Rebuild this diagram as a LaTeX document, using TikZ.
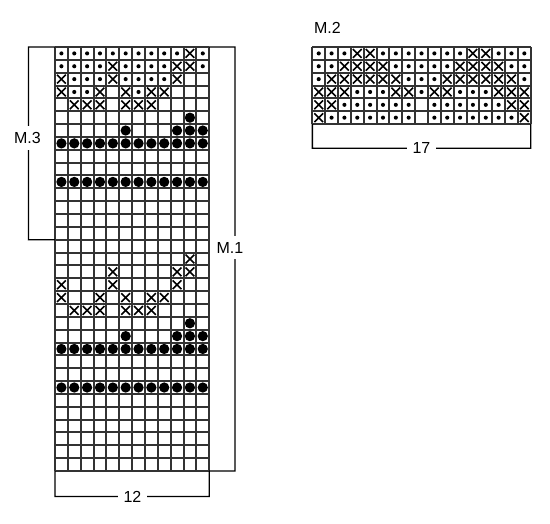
\documentclass[tikz,border=0pt]{standalone}
\usepackage{fontspec}
\setmainfont{Liberation Sans}
\begin{document}
\begin{tikzpicture}[x=1pt,y=-1pt,
  gridline/.style={line width=2pt,black!80},
  xline/.style={line width=1.6pt,black},
  bracket/.style={line width=1.4pt,black},
  lbl/.style={font=\fontsize{16}{19}\selectfont,fill=white,inner xsep=2pt,inner ysep=6pt}]
\useasboundingbox (0,0) rectangle (550,524);
\newcommand\sdot[2]{\fill (#1-0.5,#2-0.5) circle[radius=0.16];}
\newcommand\bdot[2]{\fill (#1-0.5,#2-0.5) circle[radius=0.4];}
\newcommand\xmk[2]{\draw[xline] (#1-0.84,#2-0.84) -- (#1-0.16,#2-0.16) (#1-0.84,#2-0.16) -- (#1-0.16,#2-0.84);}
% ---------- M.1 / M.3 chart ----------
\begin{scope}[shift={(55,47)},x=12.85pt,y=-12.85pt]
  \foreach \r/\cols in {1/{1,2,3,4,5,6,7,8,9,10,12},2/{1,2,3,4,6,7,8,9,12},3/{2,3,4,6,7,8,9},4/{2,3,7}}
    {\foreach \c in \cols {\sdot{\c}{\r}}}
  \foreach \r/\cols in {1/{11},2/{5,10,11},3/{1,5,10},4/{1,4,6,8,9},5/{2,3,4,6,7,8}}
    {\foreach \c in \cols {\xmk{\c}{\r}\xmk{\c}{\r+16}}}
  \foreach \r/\cols in {6/{11},7/{6,10,11,12},8/{1,2,3,4,5,6,7,8,9,10,11,12},11/{1,2,3,4,5,6,7,8,9,10,11,12},22/{11},23/{6,10,11,12},24/{1,2,3,4,5,6,7,8,9,10,11,12},27/{1,2,3,4,5,6,7,8,9,10,11,12}}
    {\foreach \c in \cols {\bdot{\c}{\r}}}
  \foreach \i in {0,...,12} \draw[gridline] (\i,0) -- (\i,33);
  \foreach \j in {0,...,33} \draw[gridline] (0,\j) -- (12,\j);
  \coordinate (LTL) at (0,0);
  \coordinate (LTR) at (12,0);
  \coordinate (LBL) at (0,33);
  \coordinate (LBR) at (12,33);
  \coordinate (L15) at (0,15);
\end{scope}
% ---------- M.2 chart ----------
\begin{scope}[shift={(312.3,47)},x=12.85pt,y=-12.85pt]
  \foreach \r/\cols in {1/{1,2,3,6,7,8,9,10,11,12,15,16,17},2/{1,2,7,8,9,10,11,16,17},3/{1,8,9,10,17},4/{4,5,6,9,12,13,14},5/{3,4,5,6,7,8,10,11,12,13,14,15},6/{2,3,4,5,6,7,8,10,11,12,13,14,15,16}}
    {\foreach \c in \cols {\sdot{\c}{\r}}}
  \foreach \r/\cols in {1/{4,5,13,14},2/{3,4,5,6,12,13,14,15},3/{2,3,4,5,6,7,11,12,13,14,15,16},4/{1,2,3,7,8,10,11,15,16,17},5/{1,2,16,17},6/{1,17}}
    {\foreach \c in \cols {\xmk{\c}{\r}}}
  \foreach \i in {0,...,17} \draw[gridline] (\i,0) -- (\i,6);
  \foreach \j in {0,...,6} \draw[gridline] (0,\j) -- (17,\j);
  \coordinate (RBL) at (0,6);
  \coordinate (RBR) at (17,6);
\end{scope}
% ---------- brackets ----------
\coordinate (m3a) at (28.5,47);
\coordinate (m3b) at (28.5,239.8);
\draw[bracket] (LTL) -- (m3a) -- (m3b) -- (L15);
\node[lbl] (m3) at (27.5,138) {M.3};
\coordinate (m1a) at (235,47);
\coordinate (m1b) at (235,471);
\draw[bracket] (LTR) -- (m1a) -- (m1b) -- (LBR);
\node[lbl] (m1) at (230,247.5) {M.1};
\coordinate (b12a) at (55,496.5);
\coordinate (b12b) at (209.2,496.5);
\draw[bracket] (LBL) -- (b12a) -- (b12b) -- (LBR);
\node[lbl,inner xsep=6pt] (n12) at (132.5,496.5) {12};
\coordinate (b17a) at (312.3,148.3);
\coordinate (b17b) at (530.7,148.3);
\draw[bracket] (RBL) -- (b17a) -- (b17b) -- (RBR);
\node[lbl,inner xsep=6pt] (n17) at (421.5,148.3) {17};
\node[font=\fontsize{16}{19}\selectfont,inner sep=0pt] (m2) at (327.5,27.5) {M.2};
\end{tikzpicture}
\end{document}
